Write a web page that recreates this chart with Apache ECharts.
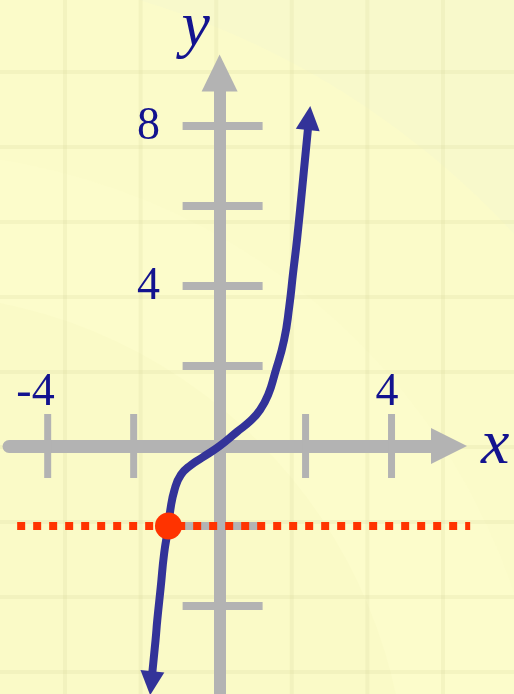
<!DOCTYPE html>
<html>
<head>
<meta charset="utf-8">
<script src="https://cdn.jsdelivr.net/npm/echarts@6/dist/echarts.min.js"></script>
<style>
  html, body { margin: 0; padding: 0; background: #f8f9cb; }
  #chart { width: 514px; height: 694px; }
</style>
</head>
<body>
<div id="chart"></div>
<script>
// Sampled points of the plotted function, from the lower end to the upper end
const curveX = [-1.59, -1.49, -1.45, -1.37, -1.29, -1.19, -1.15, -1.05, -0.90, -0.66, -0.42, 0, 0.41, 0.71, 0.94, 1.13, 1.29, 1.50, 1.62, 1.71, 1.80, 1.94, 2.08];
const curveY = [-5.93, -4.85, -4.35, -3.53, -2.68, -2.0, -1.62, -1.10, -0.72, -0.47, -0.30, 0, 0.36, 0.62, 0.90, 1.28, 1.83, 2.65, 3.48, 4.33, 5.15, 6.65, 8.2];

// Horizontal reference level and the point where the curve meets it
const level = -2;
const crossingX = -1.19;
const levelFrom = -4.71;
const levelTo = 5.83;

// Axis tick marks and the labelled ticks
const xTicks = [-4, -2, 2, 4];
const yTicks = [-4, -2, 2, 4, 6, 8];
const xTickLabels = ['-4', '4'];
const yTickLabels = ['4', '8'];

// Visible axis ranges
const xMin = -4.9, xMax = 5.337;
const yMin = -6.2, yMax = 9.325;

const ink = '#13138f';
const axisGray = '#b3b3b3';
const curveBlue = '#333399';
const red = '#ff3300';
const serif = '"Liberation Serif", "DejaVu Serif", serif';

// Soft paper background: faint tint rings and a light square grid
const bg = [];
[[835, '#fbfbc9'], [648, '#fcfccb'], [507, '#fafac7']].forEach(function (ring) {
  bg.push({ type: 'circle', silent: true, z: -20,
    shape: { cx: -100, cy: 800, r: ring[0] }, style: { fill: ring[1] } });
});
for (let gx = 65; gx < 514; gx += 75.6) {
  bg.push({ type: 'rect', silent: true, z: -19,
    shape: { x: gx - 2, y: 0, width: 4, height: 694 }, style: { fill: 'rgba(205,205,140,0.16)' } });
}
for (let gy = 72; gy < 694; gy += 75) {
  bg.push({ type: 'rect', silent: true, z: -19,
    shape: { x: 0, y: gy - 2, width: 514, height: 4 }, style: { fill: 'rgba(205,205,140,0.16)' } });
}

const curveData = curveX.map(function (x, i) {
  const p = [x, curveY[i]];
  if (i === 0) return { value: p, symbol: 'triangle', symbolSize: [24, 24], symbolRotate: 174.6 };
  if (i === curveX.length - 1) return { value: p, symbol: 'triangle', symbolSize: [24, 24], symbolRotate: -6 };
  return { value: p, symbol: 'none' };
});

const labelData = xTickLabels.map(function (t) { return [Number(t), 0, 0]; })
  .concat(yTickLabels.map(function (t) { return [0, Number(t), 1]; }));

const chart = echarts.init(document.getElementById('chart'));
chart.setOption({
  animation: false,
  backgroundColor: '#f8f9cb',
  graphic: { elements: bg },
  grid: { left: 9, right: 65, top: 73, bottom: 0, containLabel: false, outerBoundsMode: 'none' },
  xAxis: {
    type: 'value', min: xMin, max: xMax,
    axisLine: { onZero: true, lineStyle: { color: axisGray, width: 13 },
      symbol: ['none', 'triangle'], symbolSize: [36, 36] },
    axisTick: { show: false }, axisLabel: { show: false }, splitLine: { show: false },
    name: 'x', nameLocation: 'end', nameGap: 32,
    nameTextStyle: { fontFamily: serif, fontStyle: 'italic', fontSize: 64, color: ink, padding: [0, 0, 10, 0] }
  },
  yAxis: {
    type: 'value', min: yMin, max: yMax,
    axisLine: { onZero: true, lineStyle: { color: axisGray, width: 12 },
      symbol: ['none', 'triangle'], symbolSize: [36, 37] },
    axisTick: { show: false }, axisLabel: { show: false }, splitLine: { show: false },
    name: 'y', nameLocation: 'end', nameGap: 13,
    nameTextStyle: { fontFamily: serif, fontStyle: 'italic', fontSize: 64, color: ink, padding: [0, 48, 0, 0] }
  },
  series: [
    {
      // cross-bar ticks on the x axis
      type: 'custom', z: 1,
      data: xTicks.map(function (v) { return [v, 0]; }),
      renderItem: function (params, api) {
        const p = api.coord([api.value(0), api.value(1)]);
        return { type: 'rect', shape: { x: p[0] - 3.5, y: p[1] - 32, width: 7, height: 64 },
          style: { fill: axisGray } };
      }
    },
    {
      // cross-bar ticks on the y axis
      type: 'custom', z: 1,
      data: yTicks.map(function (v) { return [0, v]; }),
      renderItem: function (params, api) {
        const p = api.coord([api.value(0), api.value(1)]);
        return { type: 'rect', shape: { x: p[0] - 37, y: p[1] - 4, width: 80, height: 8 },
          style: { fill: axisGray } };
      }
    },
    {
      // tick labels
      type: 'custom', z: 1,
      data: labelData,
      renderItem: function (params, api) {
        const vx = api.value(0), vy = api.value(1), onY = api.value(2) === 1;
        const p = api.coord([vx, vy]);
        return {
          type: 'text',
          x: onY ? p[0] - 59.5 : p[0] + 7,
          y: onY ? p[1] + 1 : p[1] - 53.5,
          style: { text: String(onY ? vy : vx), fill: ink, fontSize: 46, fontFamily: serif,
            align: 'right', verticalAlign: 'middle' }
        };
      }
    },
    {
      type: 'line', z: 3,
      data: curveData,
      smooth: 0.5,
      symbol: 'triangle', showSymbol: true,
      lineStyle: { color: curveBlue, width: 8 },
      itemStyle: { color: curveBlue, borderWidth: 0 },
      silent: true
    },
    {
      // dotted horizontal level line
      type: 'custom', z: 4,
      data: [[levelFrom, level, levelTo]],
      renderItem: function (params, api) {
        const a = api.coord([api.value(0), api.value(1)]);
        const b = api.coord([api.value(2), api.value(1)]);
        return { type: 'line', shape: { x1: a[0], y1: a[1], x2: b[0], y2: b[1] },
          style: { stroke: red, lineWidth: 8, lineDash: [8, 8], lineCap: 'butt' } };
      }
    },
    {
      type: 'scatter', z: 5,
      data: [[crossingX, level]],
      symbolSize: 27,
      itemStyle: { color: red, opacity: 1 },
      silent: true
    }
  ]
});
</script>
</body>
</html>
